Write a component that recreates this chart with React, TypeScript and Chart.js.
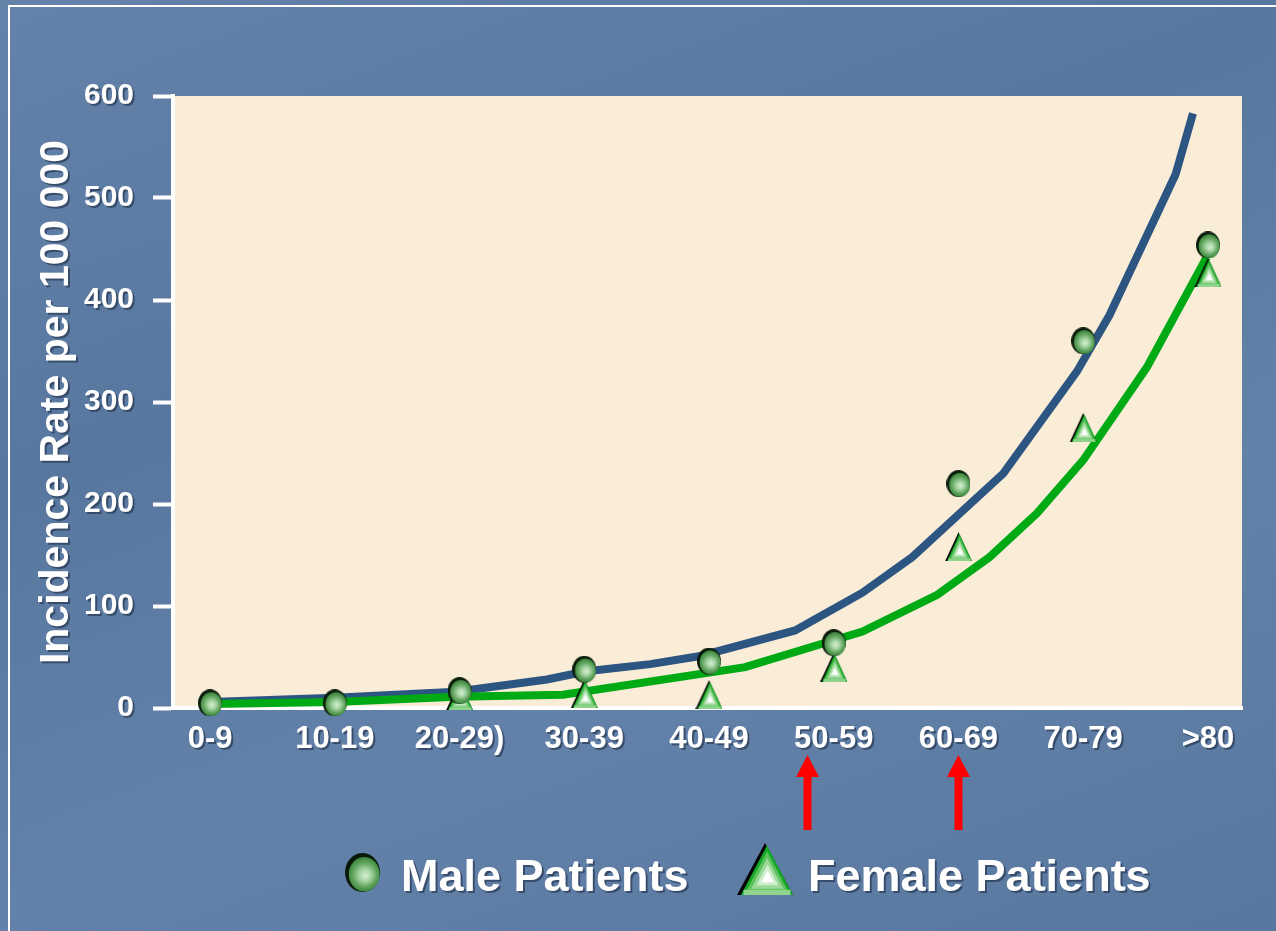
import React, { useEffect, useRef } from 'react';
import { Chart, registerables } from 'chart.js';

Chart.register(...registerables);

// ---- data ----
const categories = ['0-9', '10-19', '20-29)', '30-39', '40-49', '50-59', '60-69', '70-79', '>80'];
const maleRates: (number | null)[] = [5, 5, 17, 38, 46, 64, 220, 360, 454];
const femaleRates: (number | null)[] = [null, null, 12, 14, 13, 40, 158, 275, 427];

// fitted curves (x given as category position)
const maleFitAt = [0, 1, 1.97, 2.7, 3.02, 3.53, 3.93, 4.69, 5.23, 5.63, 6.36, 6.95, 7.21, 7.74, 7.88];
const maleFitRate = [6, 10, 16, 28, 36, 43, 51, 76, 113, 148, 230, 330, 385, 523, 583];
const femaleFitAt = [0, 1, 1.97, 2.83, 4.29, 5.23, 5.83, 6.25, 6.63, 7.0, 7.51, 7.99];
const femaleFitRate = [4, 6, 11, 13, 40, 75, 111, 148, 191, 243, 334, 442];

const yTickStep = 100;
const yMax = 600;
const arrowAt = [4.79, 6.0];

const FONT = "'Liberation Sans', Arial, Helvetica, sans-serif";

function makeCircleImage(w: number, h: number): HTMLCanvasElement {
  const c = document.createElement('canvas');
  c.width = w;
  c.height = h;
  const g = c.getContext('2d')!;
  g.fillStyle = '#0a1a0a';
  g.beginPath();
  g.ellipse(w / 2, h / 2, w / 2, h / 2, 0, 0, Math.PI * 2);
  g.fill();
  const cx = w / 2 + w * 0.05;
  const cy = h / 2 + h * 0.045;
  const grad = g.createRadialGradient(cx + w * 0.04, cy + h * 0.04, 0, cx, cy, Math.max(w, h) * 0.48);
  grad.addColorStop(0, '#d6eed4');
  grad.addColorStop(0.3, '#a8d6a6');
  grad.addColorStop(0.65, '#5fa35d');
  grad.addColorStop(1, '#2f7a31');
  g.fillStyle = grad;
  g.beginPath();
  g.ellipse(cx, cy, w / 2 - w * 0.06, h / 2 - h * 0.055, 0, 0, Math.PI * 2);
  g.fill();
  return c;
}

function makeTriangleImage(w: number, h: number): HTMLCanvasElement {
  const c = document.createElement('canvas');
  c.width = w;
  c.height = h;
  const g = c.getContext('2d')!;
  const tri = (pts: number[][], color: string) => {
    g.fillStyle = color;
    g.beginPath();
    g.moveTo(pts[0][0], pts[0][1]);
    g.lineTo(pts[1][0], pts[1][1]);
    g.lineTo(pts[2][0], pts[2][1]);
    g.closePath();
    g.fill();
  };
  tri([[w / 2, 0], [w, h], [0, h]], '#000');
  const base = [[w / 2 + w * 0.035, h * 0.05], [w, h], [w * 0.07, h]];
  tri(base, '#14a826');
  const cx = w * 0.55;
  const cy = h * 0.68;
  const layers: [string, number][] = [
    ['#5cc25c', 0.82],
    ['#9ad998', 0.62],
    ['#cfeecd', 0.42],
    ['#ffffff', 0.24],
  ];
  for (const [col, s] of layers) {
    tri(base.map(([px, py]) => [cx + (px - cx) * s, cy + (py - cy) * s]), col);
  }
  const band = Math.max(2, h * 0.1);
  g.fillStyle = '#8fd38d';
  g.fillRect(w * 0.07 + band * 0.5, h - band, w * 0.93 - band, band);
  return c;
}

const decorPlugin = {
  id: 'decor',
  afterLayout(chart: any) {
    const ctx = chart.ctx;
    Object.values(chart.scales).forEach((s: any) => {
      if (s.__patched) return;
      s.__patched = true;
      const wrap = (name: string) => {
        const orig = s[name].bind(s);
        s[name] = (...args: any[]) => {
          ctx.save();
          ctx.shadowColor = 'rgba(30,45,70,0.6)';
          ctx.shadowOffsetX = 2;
          ctx.shadowOffsetY = 2;
          ctx.shadowBlur = 0;
          orig(...args);
          ctx.restore();
        };
      };
      wrap('drawLabels');
      wrap('drawTitle');
    });
  },
  beforeDraw(chart: any) {
    const { ctx, chartArea: a } = chart;
    ctx.save();
    ctx.fillStyle = '#FAEDD8';
    ctx.fillRect(a.left, a.top, a.right - a.left, a.bottom - a.top);
    ctx.restore();
  },
  afterDraw(chart: any) {
    const { ctx, chartArea: a } = chart;
    const x = chart.scales.x;
    ctx.save();
    ctx.fillStyle = '#FF0000';
    for (const v of arrowAt) {
      const cx = x.getPixelForValue(v);
      const top = a.bottom + 47;
      ctx.beginPath();
      ctx.moveTo(cx, top);
      ctx.lineTo(cx + 11.5, top + 22);
      ctx.lineTo(cx - 11.5, top + 22);
      ctx.closePath();
      ctx.fill();
      ctx.fillRect(cx - 4, top + 20, 8, 122 - 47 - 20);
    }
    ctx.restore();
  },
};

export default function App() {
  const canvasRef = useRef<HTMLCanvasElement | null>(null);
  const legCircleRef = useRef<HTMLCanvasElement | null>(null);
  const legTriRef = useRef<HTMLCanvasElement | null>(null);

  useEffect(() => {
    if (legCircleRef.current) {
      const g = legCircleRef.current.getContext('2d')!;
      g.clearRect(0, 0, 35, 39);
      g.drawImage(makeCircleImage(35, 39), 0, 0);
    }
    if (legTriRef.current) {
      const g = legTriRef.current.getContext('2d')!;
      g.clearRect(0, 0, 56, 52);
      g.drawImage(makeTriangleImage(56, 52), 0, 0);
    }
    const canvas = canvasRef.current;
    if (!canvas) return;
    Chart.defaults.font.family = FONT;

    const circleImg = makeCircleImage(24, 27);
    const triImg = makeTriangleImage(27, 29);

    const malePts = categories
      .map((_, i) => ({ x: i, y: maleRates[i] }))
      .filter((p) => p.y !== null);
    const femalePts = categories
      .map((_, i) => ({ x: i, y: femaleRates[i] }))
      .filter((p) => p.y !== null);

    const chart = new Chart(canvas, {
      type: 'line',
      data: {
        datasets: [
          {
            label: 'Male Patients',
            data: malePts as any,
            showLine: false,
            pointStyle: circleImg as any,
            pointRadius: 12,
            clip: false as any,
            order: 0,
          },
          {
            label: 'Female Patients',
            data: femalePts as any,
            showLine: false,
            pointStyle: triImg as any,
            pointRadius: 14,
            clip: false as any,
            order: 1,
          },
          {
            label: 'Female fit',
            data: femaleFitAt.map((x, i) => ({ x, y: femaleFitRate[i] })) as any,
            borderColor: '#00AA14',
            borderWidth: 8,
            pointRadius: 0,
            tension: 0,
            fill: false,
            order: 2,
          },
          {
            label: 'Male fit',
            data: maleFitAt.map((x, i) => ({ x, y: maleFitRate[i] })) as any,
            borderColor: '#2D5582',
            borderWidth: 8,
            pointRadius: 0,
            tension: 0,
            fill: false,
            order: 3,
          },
        ],
      },
      options: {
        responsive: false,
        animation: false,
        devicePixelRatio: 1,
        layout: { padding: { left: 0, top: 96, right: 34, bottom: 0 } },
        plugins: {
          legend: { display: false },
          tooltip: { enabled: false },
        },
        scales: {
          x: {
            type: 'linear',
            min: -0.297,
            max: 8.273,
            afterFit: (s: any) => {
              s.height = 223;
            },
            afterBuildTicks: (s: any) => {
              s.ticks = categories.map((_, i) => ({ value: i }));
            },
            grid: { display: false, drawTicks: false },
            border: { display: true, color: '#FFFFFF', width: 4 },
            ticks: {
              color: '#FFFFFF',
              font: { size: 31, family: FONT, weight: 'bold' },
              padding: 13,
              maxRotation: 0,
              autoSkip: false,
              callback: (v: any) => categories[Math.round(Number(v))] ?? '',
            },
          },
          y: {
            min: 0,
            max: yMax,
            afterFit: (s: any) => {
              s.width = 173;
            },
            ticks: {
              stepSize: yTickStep,
              color: '#FFFFFF',
              font: { size: 30, family: FONT, weight: 'bold' },
              padding: 19,
            },
            grid: {
              display: true,
              drawOnChartArea: false,
              drawTicks: true,
              tickLength: 20,
              tickColor: '#FFFFFF',
              tickWidth: 4,
              color: 'rgba(0,0,0,0)',
            },
            border: { display: true, color: '#FFFFFF', width: 4 },
            title: {
              display: true,
              text: 'Incidence Rate per 100 000',
              color: '#FFFFFF',
              font: { size: 41, family: FONT, weight: 'bold' },
              padding: { top: 32, bottom: 0 },
            },
          },
        },
      } as any,
      plugins: [decorPlugin as any],
    });
    return () => chart.destroy();
  }, []);

  const textStyle: React.CSSProperties = {
    position: 'absolute',
    top: 853,
    fontFamily: FONT,
    fontSize: 45,
    fontWeight: 'bold',
    lineHeight: '45px',
    color: '#FFFFFF',
    whiteSpace: 'nowrap',
    textShadow: '2px 2px 0 rgba(30,45,70,0.6)',
  };

  return (
    <div
      style={{
        position: 'fixed',
        left: 0,
        top: 0,
        width: 1276,
        height: 931,
        overflow: 'hidden',
        background:
          'linear-gradient(160deg, rgba(255,255,255,0.06) 0%, rgba(0,0,0,0.03) 35%, rgba(255,255,255,0.05) 65%, rgba(0,0,0,0.03) 100%), #5B7BA4',
      }}
    >
      <div
        style={{
          position: 'absolute',
          left: 8,
          top: 5,
          width: 1400,
          height: 1100,
          borderLeft: '2px solid #FFFFFF',
          borderTop: '2px solid #FFFFFF',
        }}
      />
      <canvas
        ref={canvasRef}
        width={1276}
        height={931}
        style={{ position: 'absolute', left: 0, top: 0, width: 1276, height: 931 }}
      />
      <canvas
        ref={legCircleRef}
        width={35}
        height={39}
        style={{ position: 'absolute', left: 345, top: 853, width: 35, height: 39 }}
      />
      <div style={{ ...textStyle, left: 401 }}>Male Patients</div>
      <canvas
        ref={legTriRef}
        width={56}
        height={52}
        style={{ position: 'absolute', left: 737, top: 843, width: 56, height: 52 }}
      />
      <div style={{ ...textStyle, left: 808 }}>Female Patients</div>
    </div>
  );
}
